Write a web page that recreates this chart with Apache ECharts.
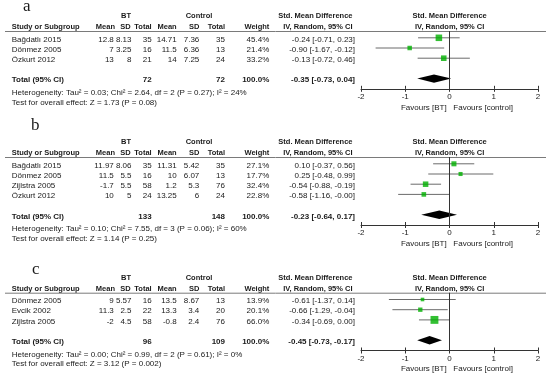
<!DOCTYPE html>
<html><head><meta charset="utf-8">
<script src="https://cdn.jsdelivr.net/npm/echarts@6/dist/echarts.min.js"></script>
<style>html,body{margin:0;padding:0;background:#fff}#c{width:550px;height:377px}</style>
</head><body><div id="c"></div>
<script>
// ---------- Panel a ----------
const studiesA  = ['Bağdatlı 2015', 'Dönmez 2005', 'Özkurt 2012'];
const btMeanA   = [12.8, 7, 13];
const btSdA     = [8.13, 3.25, 8];
const btNA      = [35, 16, 21];
const ctlMeanA  = [14.71, 11.5, 14];
const ctlSdA    = [7.36, 6.36, 7.25];
const ctlNA     = [35, 13, 24];
const weightA   = [45.4, 21.4, 33.2];
const smdA      = [-0.24, -0.90, -0.13];
const loA       = [-0.71, -1.67, -0.72];
const hiA       = [0.23, -0.12, 0.46];
// ---------- Panel b ----------
const studiesB  = ['Bağdatlı 2015', 'Dönmez 2005', 'Zijlstra 2005', 'Özkurt 2012'];
const btMeanB   = [11.97, 11.5, -1.7, 10];
const btSdB     = [8.06, 5.5, 5.5, 5];
const btNB      = [35, 16, 58, 24];
const ctlMeanB  = [11.31, 10, 1.2, 13.25];
const ctlSdB    = [5.42, 6.07, 5.3, 6];
const ctlNB     = [35, 13, 76, 24];
const weightB   = [27.1, 17.7, 32.4, 22.8];
const smdB      = [0.10, 0.25, -0.54, -0.58];
const loB       = [-0.37, -0.48, -0.88, -1.16];
const hiB       = [0.56, 0.99, -0.19, -0.004];
// ---------- Panel c ----------
const studiesC  = ['Dönmez 2005', 'Evcik 2002', 'Zijlstra 2005'];
const btMeanC   = [9, 11.3, -2];
const btSdC     = [5.57, 2.5, 4.5];
const btNC      = [16, 22, 58];
const ctlMeanC  = [13.5, 13.3, -0.8];
const ctlSdC    = [8.67, 3.4, 2.4];
const ctlNC     = [13, 20, 76];
const weightC   = [13.9, 20.1, 66.0];
const smdC      = [-0.61, -0.66, -0.34];
const loC       = [-1.37, -1.29, -0.69];
const hiC       = [0.14, -0.04, 0.00];
// ---------- Totals ----------
const panelLabels   = ['a', 'b', 'c'];
const totalBtN      = [72, 133, 96];
const totalCtlN     = [72, 148, 109];
const pooledSmd     = [-0.35, -0.23, -0.45];
const pooledLo      = [-0.73, -0.64, -0.73];
const pooledHi      = [0.04, 0.17, -0.17];
const heterogeneity = [
  'Heterogeneity: Tau² = 0.03; Chi² = 2.64, df = 2 (P = 0.27); I² = 24%',
  'Heterogeneity: Tau² = 0.10; Chi² = 7.55, df = 3 (P = 0.06); I² = 60%',
  'Heterogeneity: Tau² = 0.00; Chi² = 0.99, df = 2 (P = 0.61); I² = 0%'
];
const overallEffect = [
  'Test for overall effect: Z = 1.73 (P = 0.08)',
  'Test for overall effect: Z = 1.14 (P = 0.25)',
  'Test for overall effect: Z = 3.12 (P = 0.002)'
];
const xTicks = [-2, -1, 0, 1, 2];

// ---------- Layout (positions / styles) ----------
const ROW = 10.2;
const MIN_Y = 1 - 6.8 / ROW;
const TOPS = [31, 157, 292.7];
const LETTER_POS = [[23, 6.6], [31, 125.2], [32, 269.6]];
const FONT = '"Liberation Sans", Arial, sans-serif';
const TXT = '#1a1a1a';
const GREEN = '#00b000';
const COL = {study: 11.7, m1: 113.8, s1: 131.5, n1: 151.7, m2: 176.7, s2: 199.3, n2: 225, w: 269.3, eff: 355, bt: 126, ctl: 199, ivR: 352.5, plotC: 449.7};
const X_LEFT = 361, X_RIGHT = 538;

const panels = [
  {studies: studiesA, m1: btMeanA, s1: btSdA, n1: btNA, m2: ctlMeanA, s2: ctlSdA, n2: ctlNA, w: weightA, smd: smdA, lo: loA, hi: hiA},
  {studies: studiesB, m1: btMeanB, s1: btSdB, n1: btNB, m2: ctlMeanB, s2: ctlSdB, n2: ctlNB, w: weightB, smd: smdB, lo: loB, hi: hiB},
  {studies: studiesC, m1: btMeanC, s1: btSdC, n1: btNC, m2: ctlMeanC, s2: ctlSdC, n2: ctlNC, w: weightC, smd: smdC, lo: loC, hi: hiC}
];

function fmtCI(m, l, h) { return m.toFixed(2) + ' [' + l.toFixed(2) + ', ' + h.toFixed(2) + ']'; }
function txt(x, y, s, align, bold, size, family) {
  return {
    type: 'text', x: x, y: y, silent: true,
    style: {
      text: s, fill: TXT,
      font: (bold ? 'bold ' : '') + (size || 8) + 'px ' + (family || FONT),
      textAlign: align || 'left', align: align || 'left',
      textVerticalAlign: 'middle', verticalAlign: 'middle'
    }
  };
}

const grids = [], xAxes = [], yAxes = [], series = [], graphics = [];

panels.forEach(function (p, k) {
  const n = p.studies.length;
  const T = n + 2;              // row index of the total
  const maxY = T + 1;
  const L = TOPS[k];
  const H = (maxY - MIN_Y) * ROW;
  const axisY = L + H;
  const rowText = function (i) { return L + 6.8 + (i - 1) * ROW + 1.5; };

  grids.push({left: X_LEFT, width: X_RIGHT - X_LEFT, top: L, height: H, containLabel: false});
  const baseX = {
    gridIndex: k, type: 'value', min: xTicks[0], max: xTicks[xTicks.length - 1], interval: 1,
    position: 'bottom', splitLine: {show: false}
  };
  xAxes.push(Object.assign({}, baseX, {
    axisLine: {show: true, onZero: false, lineStyle: {color: '#333', width: 1}},
    axisTick: {show: true, inside: false, length: 3, lineStyle: {color: '#333'}},
    axisLabel: {show: true, margin: 4, fontSize: 8, color: TXT, fontFamily: FONT}
  }));
  xAxes.push(Object.assign({}, baseX, {
    axisLine: {show: false, onZero: false},
    axisTick: {show: true, inside: true, length: 3, lineStyle: {color: '#333'}},
    axisLabel: {show: false}
  }));
  yAxes.push({gridIndex: k, type: 'value', inverse: true, min: MIN_Y, max: maxY, show: false});

  const ciData = p.studies.map(function (s, i) { return [p.lo[i], p.hi[i], i + 1]; });
  series.push({
    type: 'custom', xAxisIndex: 2 * k, yAxisIndex: k, z: 2, silent: true,
    data: ciData, encode: {x: [0, 1], y: 2},
    renderItem: function (params, api) {
      const a = api.coord([api.value(0), api.value(2)]);
      const b = api.coord([api.value(1), api.value(2)]);
      return {type: 'line', shape: {x1: a[0], y1: a[1], x2: b[0], y2: b[1]}, style: {stroke: '#6b6b6b', lineWidth: 1}};
    }
  });
  series.push({
    type: 'scatter', xAxisIndex: 2 * k, yAxisIndex: k, z: 3, silent: true,
    symbol: 'rect',
    data: p.studies.map(function (s, i) { return {value: [p.smd[i], i + 1], symbolSize: Math.max(3, 0.97 * Math.sqrt(p.w[i]))}; }),
    itemStyle: {color: GREEN},
    markLine: {
      silent: true, symbol: 'none', label: {show: false},
      lineStyle: {color: '#333', width: 1, type: 'solid'},
      data: [{xAxis: 0}]
    }
  });
  series.push({
    type: 'custom', xAxisIndex: 2 * k, yAxisIndex: k, z: 4, silent: true,
    data: [[pooledLo[k], pooledSmd[k], pooledHi[k], T]],
    encode: {x: [0, 1, 2], y: 3},
    renderItem: function (params, api) {
      const y = api.value(3);
      const l = api.coord([api.value(0), y]);
      const m = api.coord([api.value(1), y]);
      const h = api.coord([api.value(2), y]);
      const hh = 4.2;
      return {type: 'polygon', shape: {points: [[l[0], l[1]], [m[0], m[1] - hh], [h[0], h[1]], [m[0], m[1] + hh]]}, style: {fill: '#000'}};
    }
  });

  // text / table
  graphics.push(txt(LETTER_POS[k][0], LETTER_POS[k][1], panelLabels[k], 'left', false, 17, '"Liberation Serif", "Times New Roman", serif'));
  const h1 = L - 14.8, h2 = L - 4;
  graphics.push(txt(COL.bt, h1, 'BT', 'center', true, 7.5));
  graphics.push(txt(COL.ctl, h1, 'Control', 'center', true, 7.5));
  graphics.push(txt(COL.ivR, h1, 'Std. Mean Difference', 'right', true, 7.5));
  graphics.push(txt(COL.plotC, h1, 'Std. Mean Difference', 'center', true, 7.5));
  graphics.push(txt(COL.study, h2, 'Study or Subgroup', 'left', true, 7.5));
  graphics.push(txt(115, h2, 'Mean', 'right', true, 7.5));
  graphics.push(txt(130.7, h2, 'SD', 'right', true, 7.5));
  graphics.push(txt(COL.n1, h2, 'Total', 'right', true, 7.5));
  graphics.push(txt(COL.m2, h2, 'Mean', 'right', true, 7.5));
  graphics.push(txt(COL.s2, h2, 'SD', 'right', true, 7.5));
  graphics.push(txt(COL.n2, h2, 'Total', 'right', true, 7.5));
  graphics.push(txt(COL.w, h2, 'Weight', 'right', true, 7.5));
  graphics.push(txt(COL.ivR, h2, 'IV, Random, 95% CI', 'right', true, 7.5));
  graphics.push(txt(COL.plotC, h2, 'IV, Random, 95% CI', 'center', true, 7.5));
  graphics.push({type: 'line', silent: true, shape: {x1: 5, y1: L + 0.5, x2: 546, y2: L + 0.5}, style: {stroke: '#7a7a7a', lineWidth: 1}});

  p.studies.forEach(function (s, i) {
    const y = rowText(i + 1);
    graphics.push(txt(COL.study, y, s, 'left'));
    graphics.push(txt(COL.m1, y, String(p.m1[i]), 'right'));
    graphics.push(txt(COL.s1, y, String(p.s1[i]), 'right'));
    graphics.push(txt(COL.n1, y, String(p.n1[i]), 'right'));
    graphics.push(txt(COL.m2, y, String(p.m2[i]), 'right'));
    graphics.push(txt(COL.s2, y, String(p.s2[i]), 'right'));
    graphics.push(txt(COL.n2, y, String(p.n2[i]), 'right'));
    graphics.push(txt(COL.w, y, p.w[i].toFixed(1) + '%', 'right'));
    graphics.push(txt(COL.eff, y, fmtCI(p.smd[i], p.lo[i], p.hi[i]), 'right'));
  });
  const ty = rowText(T);
  graphics.push(txt(COL.study, ty, 'Total (95% CI)', 'left', true));
  graphics.push(txt(COL.n1, ty, String(totalBtN[k]), 'right', true));
  graphics.push(txt(COL.n2, ty, String(totalCtlN[k]), 'right', true));
  graphics.push(txt(COL.w, ty, '100.0%', 'right', true));
  graphics.push(txt(COL.eff, ty, fmtCI(pooledSmd[k], pooledLo[k], pooledHi[k]), 'right', true));
  graphics.push(txt(COL.study, ty + 12.5, heterogeneity[k], 'left'));
  graphics.push(txt(COL.study, ty + 22.2, overallEffect[k], 'left'));
  graphics.push(txt(COL.plotC - 3, axisY + 18.5, 'Favours [BT]', 'right'));
  graphics.push(txt(COL.plotC + 3.6, axisY + 18.5, 'Favours [control]', 'left'));
});

const chart = echarts.init(document.getElementById('c'), null, {renderer: 'canvas'});
chart.setOption({
  animation: false,
  backgroundColor: '#fff',
  textStyle: {fontFamily: FONT},
  grid: grids, xAxis: xAxes, yAxis: yAxes, series: series,
  graphic: graphics
});
</script></body></html>
